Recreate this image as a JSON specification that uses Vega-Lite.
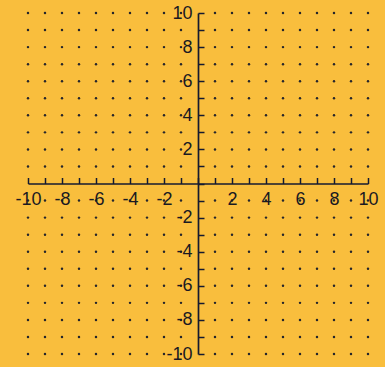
{
  "$schema": "https://vega.github.io/schema/vega-lite/v6.json",
  "width": 340,
  "height": 341,
  "autosize": {"type": "none"},
  "padding": {"left": 28, "top": 13, "right": 17, "bottom": 13},
  "background": "#f9be3d",
  "config": {"view": {"stroke": null}},
  "data": {"values": [
    {"y": 10, "xs": [-10,-9,-8,-7,-6,-5,-4,-3,-2,-1,1,2,3,4,5,6,7,8,9,10]},
    {"y": 9, "xs": [-10,-9,-8,-7,-6,-5,-4,-3,-2,-1,1,2,3,4,5,6,7,8,9,10]},
    {"y": 8, "xs": [-10,-9,-8,-7,-6,-5,-4,-3,-2,-1,1,2,3,4,5,6,7,8,9,10]},
    {"y": 7, "xs": [-10,-9,-8,-7,-6,-5,-4,-3,-2,-1,1,2,3,4,5,6,7,8,9,10]},
    {"y": 6, "xs": [-10,-9,-8,-7,-6,-5,-4,-3,-2,-1,1,2,3,4,5,6,7,8,9,10]},
    {"y": 5, "xs": [-10,-9,-8,-7,-6,-5,-4,-3,-2,-1,1,2,3,4,5,6,7,8,9,10]},
    {"y": 4, "xs": [-10,-9,-8,-7,-6,-5,-4,-3,-2,-1,1,2,3,4,5,6,7,8,9,10]},
    {"y": 3, "xs": [-10,-9,-8,-7,-6,-5,-4,-3,-2,-1,1,2,3,4,5,6,7,8,9,10]},
    {"y": 2, "xs": [-10,-9,-8,-7,-6,-5,-4,-3,-2,-1,1,2,3,4,5,6,7,8,9,10]},
    {"y": 1, "xs": [-10,-9,-8,-7,-6,-5,-4,-3,-2,-1,1,2,3,4,5,6,7,8,9,10]},
    {"y": -1, "xs": [-10,-9,-8,-7,-6,-5,-4,-3,-2,-1,1,2,3,4,5,6,7,8,9,10]},
    {"y": -2, "xs": [-10,-9,-8,-7,-6,-5,-4,-3,-2,-1,1,2,3,4,5,6,7,8,9,10]},
    {"y": -3, "xs": [-10,-9,-8,-7,-6,-5,-4,-3,-2,-1,1,2,3,4,5,6,7,8,9,10]},
    {"y": -4, "xs": [-10,-9,-8,-7,-6,-5,-4,-3,-2,-1,1,2,3,4,5,6,7,8,9,10]},
    {"y": -5, "xs": [-10,-9,-8,-7,-6,-5,-4,-3,-2,-1,1,2,3,4,5,6,7,8,9,10]},
    {"y": -6, "xs": [-10,-9,-8,-7,-6,-5,-4,-3,-2,-1,1,2,3,4,5,6,7,8,9,10]},
    {"y": -7, "xs": [-10,-9,-8,-7,-6,-5,-4,-3,-2,-1,1,2,3,4,5,6,7,8,9,10]},
    {"y": -8, "xs": [-10,-9,-8,-7,-6,-5,-4,-3,-2,-1,1,2,3,4,5,6,7,8,9,10]},
    {"y": -9, "xs": [-10,-9,-8,-7,-6,-5,-4,-3,-2,-1,1,2,3,4,5,6,7,8,9,10]},
    {"y": -10, "xs": [-10,-9,-8,-7,-6,-5,-4,-3,-2,-1,1,2,3,4,5,6,7,8,9,10]}
  ]},
  "transform": [{"flatten": ["xs"], "as": ["x"]}],
  "mark": {"type": "point", "filled": true, "size": 6, "color": "#26262c", "opacity": 1},
  "encoding": {
    "x": {
      "field": "x", "type": "quantitative",
      "scale": {"domain": [-10, 10], "nice": false, "zero": false},
      "axis": {
        "orient": "bottom", "offset": -170.5, "title": null, "grid": false,
        "values": [-10,-9,-8,-7,-6,-5,-4,-3,-2,-1,0,1,2,3,4,5,6,7,8,9,10],
        "labelExpr": "datum.value % 2 == 0 && datum.value != 0 ? '' + datum.value : ''",
        "tickSize": -6, "labelPadding": 13, "labelBaseline": "top",
        "domainColor": "#141a30", "domainWidth": 1.7, "tickColor": "#141a30", "tickWidth": 1.5,
        "labelFont": "Liberation Sans Narrow, Liberation Sans", "labelFontSize": 18, "labelColor": "#1a1a22",
        "labelFlush": false, "labelOverlap": false, "labelBound": false, "zindex": 1
      }
    },
    "y": {
      "field": "y", "type": "quantitative",
      "scale": {"domain": [-10, 10], "nice": false, "zero": false},
      "axis": {
        "orient": "left", "offset": -170, "title": null, "grid": false,
        "values": [-10,-9,-8,-7,-6,-5,-4,-3,-2,-1,0,1,2,3,4,5,6,7,8,9,10],
        "labelExpr": "datum.value % 2 == 0 && datum.value != 0 ? '' + datum.value : ''",
        "tickSize": -6, "labelPadding": 12, "labelAlign": "right", "labelBaseline": "middle",
        "domainColor": "#141a30", "domainWidth": 1.7, "tickColor": "#141a30", "tickWidth": 1.5,
        "labelFont": "Liberation Sans Narrow, Liberation Sans", "labelFontSize": 18, "labelColor": "#1a1a22",
        "labelFlush": false, "labelOverlap": false, "labelBound": false, "zindex": 1
      }
    }
  }
}
